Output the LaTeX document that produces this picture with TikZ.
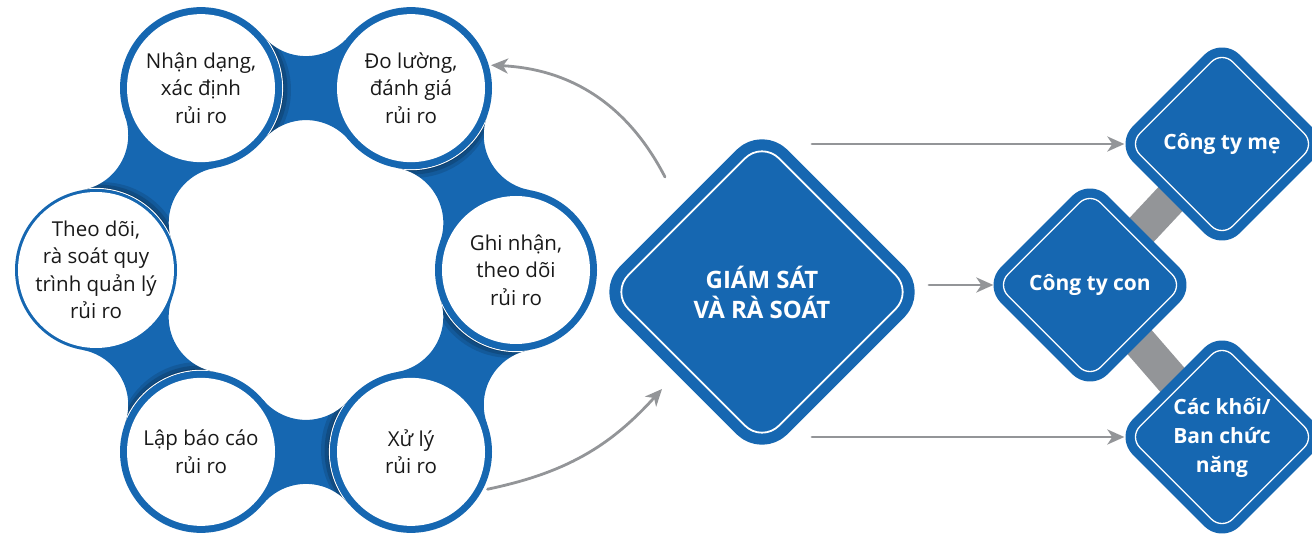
\documentclass[tikz,border=0pt]{standalone}
\usepackage{fontspec}
\setmainfont{Open Sans}
\usepackage{tikz}
\usetikzlibrary{arrows.meta}
\usetikzlibrary{shapes.geometric}
\usetikzlibrary{backgrounds}
\usetikzlibrary{positioning}
\definecolor{ringblue}{RGB}{22,103,177}
\definecolor{arrowgray}{RGB}{147,149,152}
\begin{document}
\begin{tikzpicture}[line cap=round,line join=round,x=1pt,y=1pt,
    stepcirc/.style={circle,fill=white,minimum size=148pt,inner sep=0pt,align=center,
      text=black!90,font=\fontsize{20.5}{27.5}\selectfont},
    bigbox/.style={diamond,aspect=1,minimum size=302pt,inner sep=0pt,rounded corners=24pt,
      fill=ringblue,draw=white,line width=1.8pt,preaction={draw=ringblue,line width=24pt},
      text=white,align=center,font=\bfseries\fontsize{24}{30}\selectfont},
    smallbox/.style={diamond,aspect=1,minimum size=186pt,inner sep=0pt,rounded corners=15pt,
      fill=ringblue,draw=white,line width=1.3pt,preaction={draw=ringblue,line width=20pt},
      text=white,align=center,font=\bfseries\fontsize{21}{29}\selectfont},
    flow/.style={draw=arrowgray,line width=2.8pt,-{Stealth[length=17pt,width=15pt,inset=5pt]}},
    bar/.style={draw=arrowgray,line width=34pt,line cap=butt}]
  \useasboundingbox (0,0) rectangle (1312,536);
  \foreach \a in {90,30,-30,-90,-150,150}{
    \begin{scope}[shift={(306,266)},rotate=\a-90,shift={(0,181.9)}]
      \fill[ringblue] (-105,0) -- (-42.9,52) arc[start angle=220,end angle=320,radius=56]
        -- (105,0) -- (42.9,-52) arc[start angle=40,end angle=140,radius=56] -- cycle;
      \begin{scope}
        \clip (-105,0) -- (-42.9,52) arc[start angle=220,end angle=320,radius=56]
          -- (105,0) -- (42.9,-52) arc[start angle=40,end angle=140,radius=56] -- cycle;
        \fill[black,opacity=.12] (-96,-2) circle (81);
        \fill[black,opacity=.15] (-99.5,-1) circle (81);
        \fill[black,opacity=.2] (-103,-.5) circle (81);
        \draw[white,line width=1.2pt] (-105,0) circle (81.5);
      \end{scope}
    \end{scope}
  }
  \begin{scope}[shift={(306,266)}]
    \foreach \a in {120,60,0,-60,-120,180}
      \fill[ringblue] (\a:210) circle (81);
    \node[stepcirc] (nhan) at (120:210) {Nhận dạng,\\xác định\\rủi ro};
    \node[stepcirc] (dolg) at (60:210) {Đo lường,\\đánh giá\\rủi ro};
    \node[stepcirc] (ghi) at (0:210) {Ghi nhận,\\theo dõi\\rủi ro};
    \node[stepcirc] (xuly) at (-60:210) {Xử lý\\rủi ro};
    \node[stepcirc] (lap) at (-120:210) {Lập báo cáo\\rủi ro};
    \node[stepcirc] (theo) at (180:210) {Theo dõi,\\rà soát quy\\trình quản lý\\rủi ro};
  \end{scope}
  \node[bigbox] (giam) at (762,244) {GIÁM SÁT\\VÀ RÀ SOÁT};
  \node[smallbox] (me) at (1222,392) {Công ty mẹ};
  \node[smallbox] (con) at (1090,251) {Công ty con};
  \node[smallbox] (khoi) at (1222,99) {Các khối/\\Ban chức\\năng};
  \begin{scope}[on background layer]
    \draw[bar] (con.center) -- (me.center);
    \draw[bar] (con.center) -- (khoi.center);
  \end{scope}
  \coordinate (up) at (665,359);
  \coordinate (down) at (662,147);
  \coordinate (top) at (812,392);
  \coordinate (mid) at (929,251);
  \coordinate (bot) at (812,99);
  \draw[flow] (up) to[bend right=30] ([shift={(16:9)}]dolg.16);
  \draw[flow] ([shift={(-26:11)}]xuly.-26) to[bend right=18] (down);
  \draw[flow] (top) -- ([xshift=-4pt]me.west);
  \draw[flow] (mid) -- ([xshift=-3pt]con.west);
  \draw[flow] (bot) -- ([xshift=-4pt]khoi.west);
\end{tikzpicture}
\end{document}
